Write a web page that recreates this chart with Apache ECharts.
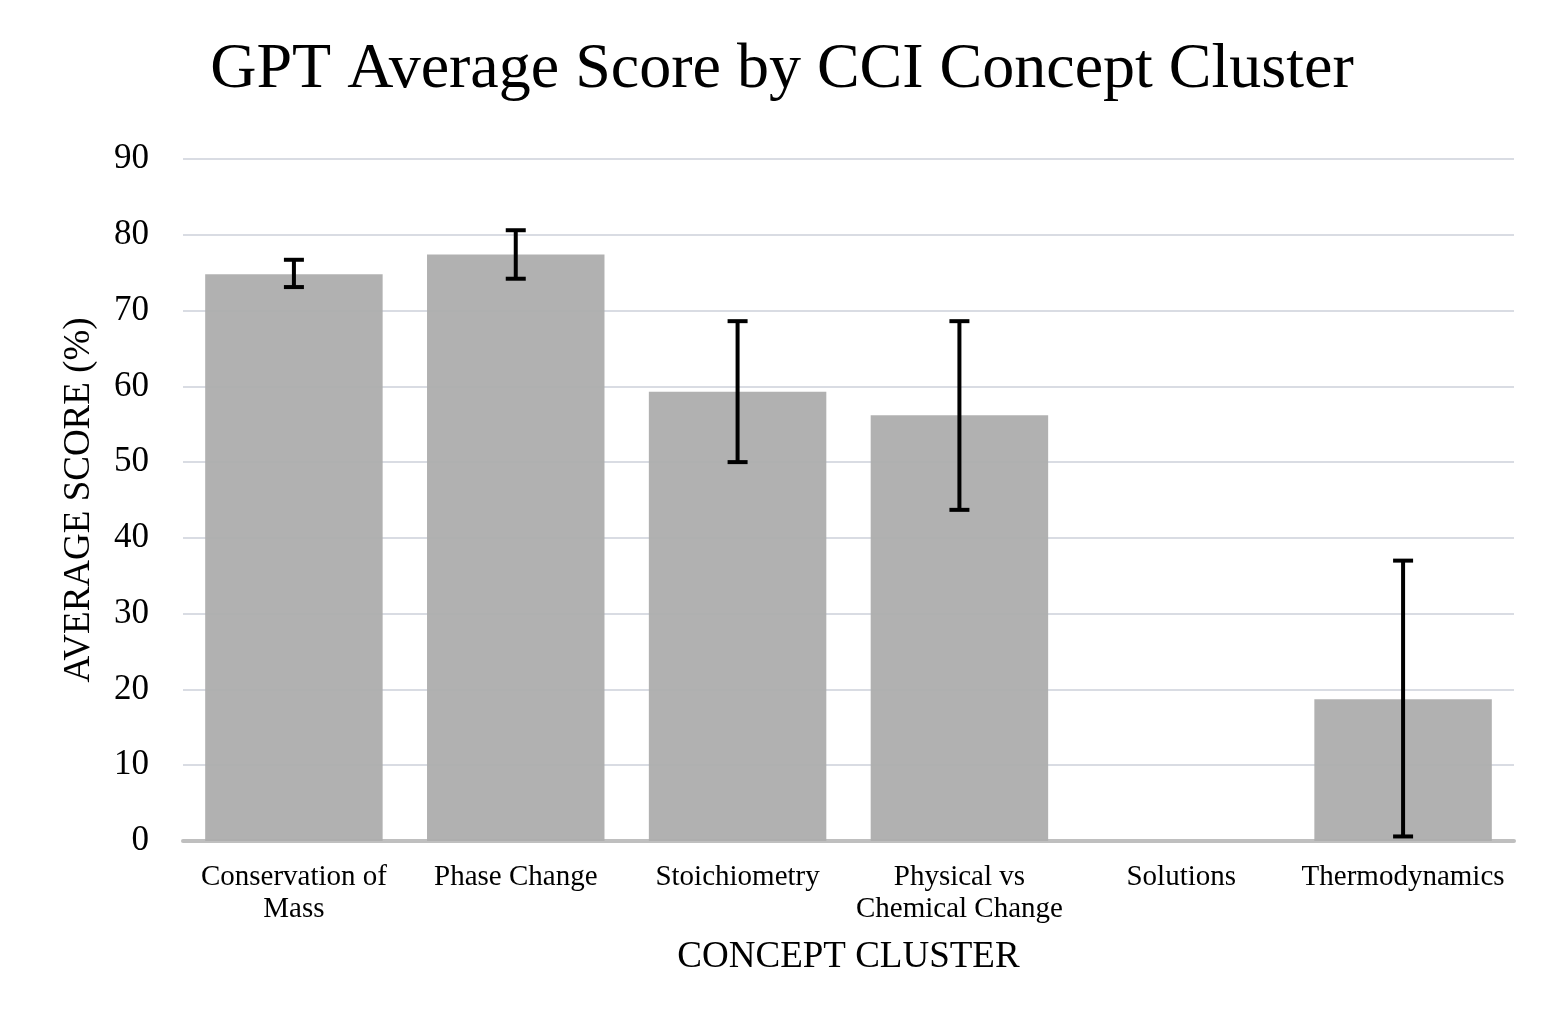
<!DOCTYPE html>
<html>
<head>
<meta charset="utf-8">
<script src="https://cdn.jsdelivr.net/npm/echarts@6/dist/echarts.min.js"></script>
<style>
html, body { margin: 0; padding: 0; background: #fff; }
#chart { width: 1564px; height: 1035px; }
</style>
</head>
<body>
<div id="chart"></div>
<script>
// data
var clusters = ['Conservation of\nMass', 'Phase Change', 'Stoichiometry', 'Physical vs\nChemical Change', 'Solutions', 'Thermodynamics'];
var avgScore = [74.8, 77.4, 59.3, 56.2, 0, 18.7];
var errLow = [73.1, 74.2, 50.0, 43.7, null, 0.6];
var errHigh = [76.7, 80.6, 68.6, 68.6, null, 37.0];
var yTicks = [0, 90, 10];

var errData = [];
for (var i = 0; i < clusters.length; i++) {
    if (errLow[i] != null) {
        errData.push([i, errLow[i], errHigh[i]]);
    }
}

var serif = '"Liberation Serif", "Times New Roman", serif';
var myChart = echarts.init(document.getElementById('chart'));
var option = {
    backgroundColor: '#ffffff',
    animation: false,
    title: {
        text: 'GPT Average Score by CCI Concept Cluster',
        left: 'center',
        top: 33,
        textStyle: { fontFamily: serif, fontSize: 64, fontWeight: 'normal', color: '#000' }
    },
    grid: { left: 183, right: 50, top: 159, bottom: 194 },
    xAxis: {
        type: 'category',
        data: clusters,
        name: 'CONCEPT CLUSTER',
        nameLocation: 'middle',
        nameGap: 98,
        nameTextStyle: { fontFamily: serif, fontSize: 37, color: '#000' },
        axisLine: { lineStyle: { color: '#bfbfbf', width: 4 } },
        axisTick: { show: false },
        axisLabel: { fontFamily: serif, fontSize: 29, color: '#000', margin: 20, lineHeight: 32, interval: 0 }
    },
    yAxis: {
        type: 'value',
        min: yTicks[0],
        max: yTicks[1],
        interval: yTicks[2],
        name: 'AVERAGE SCORE (%)',
        nameLocation: 'middle',
        nameGap: 85,
        nameTextStyle: { fontFamily: serif, fontSize: 37, color: '#000' },
        axisLine: { show: false },
        axisTick: { show: false },
        axisLabel: { fontFamily: serif, fontSize: 35, color: '#000', margin: 34 },
        splitLine: { lineStyle: { color: '#d9dce3', width: 2 } }
    },
    series: [
        {
            type: 'bar',
            data: avgScore,
            barWidth: '80%',
            itemStyle: { color: '#adadad', opacity: 0.95 }
        },
        {
            type: 'custom',
            data: errData,
            z: 10,
            renderItem: function (params, api) {
                var x = api.value(0);
                var lo = api.coord([x, api.value(1)]);
                var hi = api.coord([x, api.value(2)]);
                var half = 10;
                var style = { stroke: '#000', lineWidth: 4 };
                return {
                    type: 'group',
                    children: [
                        { type: 'line', shape: { x1: hi[0], y1: hi[1], x2: lo[0], y2: lo[1] }, style: style },
                        { type: 'line', shape: { x1: hi[0] - half, y1: hi[1], x2: hi[0] + half, y2: hi[1] }, style: style },
                        { type: 'line', shape: { x1: lo[0] - half, y1: lo[1], x2: lo[0] + half, y2: lo[1] }, style: style }
                    ]
                };
            }
        }
    ]
};
myChart.setOption(option);
</script>
</body>
</html>
